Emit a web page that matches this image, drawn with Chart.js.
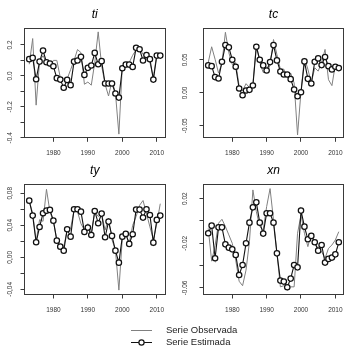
<!DOCTYPE html>
<html><head><meta charset="utf-8">
<script src="https://cdn.jsdelivr.net/npm/chart.js@4.4.0/dist/chart.umd.min.js"></script>
<style>
html,body{margin:0;padding:0;background:#fff;}
#wrap{position:relative;width:351px;height:354px;overflow:hidden;background:#fff;}
canvas{position:absolute;left:0;top:0;}
</style></head><body><div id="wrap">
<canvas id="c1" width="351" height="354"></canvas>
<canvas id="c2" width="351" height="354"></canvas>
<canvas id="c3" width="351" height="354"></canvas>
<canvas id="c4" width="351" height="354"></canvas>
</div>
<script>
const years = [1973,1974,1975,1976,1977,1978,1979,1980,1981,1982,1983,1984,1985,1986,1987,1988,1989,1990,1991,1992,1993,1994,1995,1996,1997,1998,1999,2000,2001,2002,2003,2004,2005,2006,2007,2008,2009,2010,2011];
const xTicks = [1980,1990,2000,2010];

const tiObs = [0.075,0.241,-0.189,0.097,0.13,0.086,0.06,0.10,0.10,-0.01,-0.02,-0.02,0.04,0.10,0.17,0.15,-0.054,-0.04,-0.06,0.086,0.284,0.065,-0.054,-0.13,-0.03,-0.11,-0.376,0.065,0.09,0.086,0.133,0.168,0.176,0.14,0.107,0.086,-0.01,0.14,0.14];
const tiEst = [0.108,0.116,-0.022,0.092,0.163,0.088,0.080,0.062,-0.015,-0.024,-0.077,-0.026,-0.060,0.092,0.099,0.123,0.006,0.052,0.067,0.148,0.075,0.095,-0.049,-0.049,-0.049,-0.114,-0.140,0.049,0.073,0.073,0.058,0.181,0.172,0.099,0.135,0.108,-0.024,0.131,0.131];

const tcObs = [0.046,0.070,0.051,0.030,0.045,0.092,0.061,0.043,0.046,0.010,0.003,0.014,0.008,0.013,0.074,0.046,0.031,0.031,0.042,0.081,0.058,0.036,0.036,0.023,0.030,0.015,-0.064,0.0025,0.053,0.036,0.015,0.038,0.033,0.046,0.066,0.020,0.011,0.043,0.038];
const tcEst = [0.0417,0.0406,0.0239,0.0218,0.0472,0.0726,0.0691,0.0503,0.0396,0.0066,-0.0036,0.0036,0.0046,0.0112,0.0701,0.0503,0.0417,0.034,0.0467,0.0726,0.0493,0.0325,0.0279,0.0279,0.0208,0.0051,-0.0051,0.001,0.0478,0.0213,0.0142,0.0472,0.0523,0.0422,0.0544,0.0406,0.0356,0.0396,0.0376];

const tyObs = [0.070,0.055,0.020,0.047,0.045,0.085,0.057,0.045,0.022,0.013,0.013,0.034,0.036,0.059,0.057,0.042,0.034,0.042,0.030,0.057,0.051,0.054,0.034,0.049,0.022,0.009,-0.041,0.024,0.029,0.0175,0.040,0.051,0.065,0.071,0.055,0.038,0.022,0.042,0.067];
const tyEst = [0.0708,0.0521,0.0188,0.0379,0.055,0.0583,0.0592,0.0458,0.0208,0.0133,0.0083,0.035,0.0258,0.06,0.06,0.057,0.0317,0.0371,0.0279,0.0579,0.0425,0.0546,0.025,0.0446,0.0267,0.0083,-0.0067,0.0258,0.0292,0.0167,0.0288,0.0596,0.0596,0.0496,0.06,0.0529,0.0183,0.0467,0.0521];

const xnObs = [-0.0066,-0.036,-0.022,-0.002,0.0015,-0.005,-0.0125,-0.020,-0.035,-0.054,-0.058,-0.044,-0.0185,0.0278,0.0084,-0.005,-0.008,0.0128,0.029,0.001,-0.029,-0.059,-0.058,-0.062,-0.059,-0.059,-0.011,0.0054,-0.011,-0.023,-0.011,-0.020,-0.0245,-0.0275,-0.0334,-0.0245,-0.0215,-0.017,-0.0096];
const xnEst = [-0.011,-0.0042,-0.0334,-0.0057,-0.0057,-0.0209,-0.0239,-0.0254,-0.0304,-0.0484,-0.0394,-0.020,-0.0015,0.0122,0.0167,-0.0015,-0.0113,0.0069,0.0069,-0.0015,-0.029,-0.0534,-0.0543,-0.0594,-0.0516,-0.0394,-0.0415,0.0093,-0.0051,-0.0164,-0.0134,-0.0191,-0.0266,-0.0215,-0.0373,-0.034,-0.0328,-0.0299,-0.0191];

const tiTicks = [-0.4,-0.3,-0.2,-0.1,0,0.1,0.2];
const tiLabels = ['-0.4','','-0.2','','0.0','','0.2'];
const tcTicks = [-0.05,0,0.05];
const tcLabels = ['-0.05','0.00','0.05'];
const tyTicks = [-0.04,-0.02,0,0.02,0.04,0.06,0.08];
const tyLabels = ['-0,04','','0,00','','0,04','','0,08'];
const xnTicks = [-0.06,-0.04,-0.02,0,0.02];
const xnLabels = ['-0.06','','-0.02','','0.02'];

const legendLabels = ['Serie Observada','Serie Estimada'];

const FONT = '"Liberation Sans", Arial, Helvetica, sans-serif';
const TICK_SIZE = 6.5;
const X_MIN = 1971.48, X_MAX = 2012.52;
const W = 22, H = 24, TL = 3.5;

const mctx = document.createElement('canvas').getContext('2d');
mctx.font = TICK_SIZE + 'px ' + FONT;
function widest(labels){ return Math.max.apply(null, labels.map(l => mctx.measureText(l).width)); }

function framePlugin(title, titleY, legend){
  return {
    id:'frame',
    afterDraw(chart){
      const ctx = chart.ctx, a = chart.chartArea;
      ctx.save();
      ctx.strokeStyle = '#3a3a3a'; ctx.lineWidth = 1;
      ctx.strokeRect(Math.round(a.left)+0.5, Math.round(a.top)+0.5, Math.round(a.right-a.left)-1, Math.round(a.bottom-a.top)-1);
      ctx.fillStyle = '#000'; ctx.font = 'italic 12px ' + FONT;
      ctx.textAlign = 'center'; ctx.textBaseline = 'middle';
      ctx.fillText(title, (a.left+a.right)/2, titleY);
      if (legend) {
        ctx.strokeStyle = '#808080'; ctx.lineWidth = 1;
        ctx.beginPath(); ctx.moveTo(131, 330.5); ctx.lineTo(152, 330.5); ctx.stroke();
        ctx.strokeStyle = '#111';
        ctx.beginPath(); ctx.moveTo(131, 342.5); ctx.lineTo(152, 342.5); ctx.stroke();
        ctx.beginPath(); ctx.arc(141.5, 342.5, 2.6, 0, Math.PI*2);
        ctx.fillStyle = '#fff'; ctx.fill(); ctx.lineWidth = 1.2; ctx.stroke();
        ctx.fillStyle = '#222'; ctx.font = '9.5px ' + FONT;
        ctx.textAlign = 'left'; ctx.textBaseline = 'middle';
        ctx.fillText(legendLabels[0], 166, 330.5);
        ctx.fillText(legendLabels[1], 166, 342.5);
      }
      ctx.restore();
    }
  };
}

function panel(id, p){
  const gridOpts = {display:true, drawOnChartArea:false, drawTicks:true, tickLength:TL, color:'#3a3a3a', lineWidth:1};
  const ypad = Math.max(0, p.labelDist - TL - widest(p.ylabels)/2);
  new Chart(document.getElementById(id), {
    type:'line',
    data:{datasets:[
      {label:legendLabels[1], data:years.map((y,i)=>({x:y, y:p.est[i]})), borderColor:'#111', borderWidth:1.1,
       pointRadius:2.7, pointBorderColor:'#111', pointBackgroundColor:'#fff', pointBorderWidth:1.25, tension:0, order:1},
      {label:legendLabels[0], data:years.map((y,i)=>({x:y, y:p.obs[i]})), borderColor:'#808080', borderWidth:1,
       pointRadius:0, tension:0, order:2}
    ]},
    options:{
      responsive:false, animation:false, devicePixelRatio:1,
      layout:{padding:{left:p.L-W, top:p.T, right:351-p.R, bottom:354-p.B-H}},
      plugins:{legend:{display:false}, tooltip:{enabled:false}, title:{display:false}},
      scales:{
        x:{type:'linear', min:X_MIN, max:X_MAX,
           afterBuildTicks:s=>{ s.ticks = xTicks.map(v=>({value:v})); },
           afterFit:s=>{ s.height = H; },
           grid:gridOpts, border:{display:false},
           ticks:{autoSkip:false, minRotation:0, maxRotation:0, padding:p.xpad,
                  font:{family:FONT, size:TICK_SIZE}, color:'#333', callback:v=>String(v)}},
        y:{type:'linear', min:p.ymin, max:p.ymax,
           afterBuildTicks:s=>{ s.ticks = p.yticks.map(v=>({value:v})); },
           afterFit:s=>{ s.width = W; },
           grid:gridOpts, border:{display:false},
           ticks:{autoSkip:false, minRotation:90, maxRotation:90, crossAlign:'center', padding:ypad,
                  font:{family:FONT, size:TICK_SIZE}, color:'#333',
                  callback:(v,i)=>p.ylabels[i]}}
      }
    },
    plugins:[framePlugin(p.title, p.titleY, p.legend)]
  });
}

panel('c1', {title:'ti', titleY:14.5, L:24, R:165.5, T:28, B:138.3, ymin:-0.403, ymax:0.309,
  yticks:tiTicks, ylabels:tiLabels, est:tiEst, obs:tiObs, labelDist:14, xpad:8});
panel('c2', {title:'tc', titleY:14.5, L:203, R:344.3, T:28, B:138.3, ymin:-0.069, ymax:0.0985,
  yticks:tcTicks, ylabels:tcLabels, est:tcEst, obs:tcObs, labelDist:18, xpad:8});
panel('c3', {title:'ty', titleY:171, L:24, R:165.5, T:184, B:295, ymin:-0.0471, ymax:0.0916,
  yticks:tyTicks, ylabels:tyLabels, est:tyEst, obs:tyObs, labelDist:14, xpad:8});
panel('c4', {title:'xn', titleY:171, L:203, R:344.3, T:184, B:295, ymin:-0.0663, ymax:0.0331,
  yticks:xnTicks, ylabels:xnLabels, est:xnEst, obs:xnObs, labelDist:18, xpad:8, legend:true});
</script>
</body></html>
